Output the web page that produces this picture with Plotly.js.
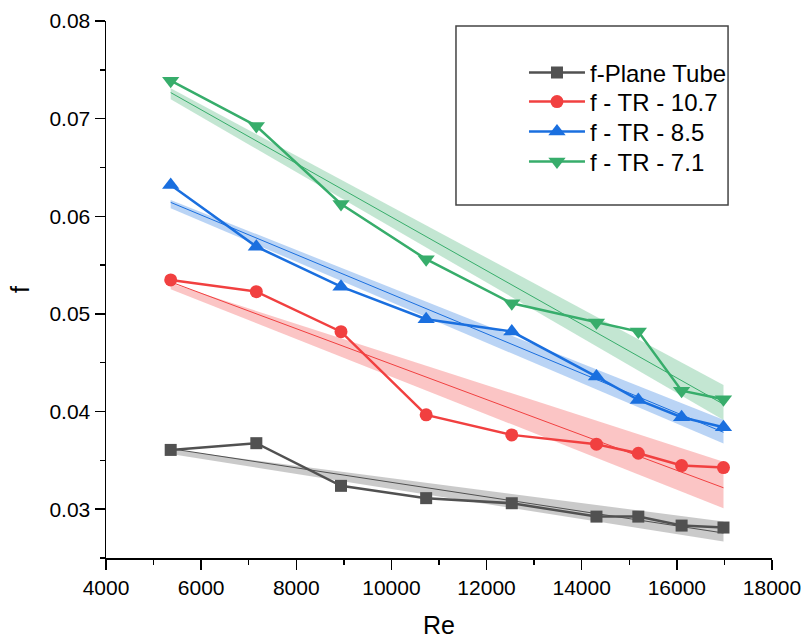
<!DOCTYPE html>
<html>
<head>
<meta charset="utf-8">
<script src="https://cdn.plot.ly/plotly-3.0.1.min.js"></script>
<style>html,body{margin:0;padding:0;background:#fff;}#chart{width:804px;height:641px;}</style>
</head>
<body>
<div id="chart"></div>
<script>
// ---- data ----
var re = [5360, 7160, 8940, 10730, 12530, 14310, 15190, 16100, 16980];
var fPlane = [0.03607, 0.03676, 0.03239, 0.03113, 0.03061, 0.02924, 0.02924, 0.02832, 0.02812];
var fTR107 = [0.05348, 0.05228, 0.04818, 0.03966, 0.03761, 0.03666, 0.03573, 0.03447, 0.03426];
var fTR85  = [0.06321, 0.05689, 0.05279, 0.04945, 0.04819, 0.04358, 0.04119, 0.03942, 0.03840];
var fTR71  = [0.07389, 0.06925, 0.06126, 0.05560, 0.05109, 0.04911, 0.04819, 0.04214, 0.04126];
var seriesNames = ['f-Plane Tube', 'f - TR - 10.7', 'f - TR - 8.5', 'f - TR - 7.1'];
// shaded band edges at first and last Re: [upper, lower]
var bandStart = [[0.03614, 0.03566], [0.05314, 0.05253], [0.06167, 0.06082], [0.07311, 0.07198]];
var bandEnd   = [[0.02873, 0.02668], [0.03487, 0.03010], [0.03915, 0.03673], [0.04273, 0.03914]];
var xTicks = [4000, 6000, 8000, 10000, 12000, 14000, 16000, 18000];
var yTicks = [0.03, 0.04, 0.05, 0.06, 0.07, 0.08];

var colors = ['#515151', '#F14040', '#1A6FDF', '#37AD6B'];
var bandColors = ['rgba(81,81,81,0.3)', 'rgba(241,64,64,0.3)', 'rgba(26,111,223,0.3)', 'rgba(55,173,107,0.3)'];
var symbols = ['square', 'circle', 'triangle-up', 'triangle-down'];
var sizes = [12, 13, 15, 15];
var allY = [fPlane, fTR107, fTR85, fTR71];
var legendIds = ['legend', 'legend2', 'legend3', 'legend4'];
var legendY = [0.9032, 0.8492, 0.7933, 0.7374];

function linfit(x, y) {
  var n = x.length, mx = 0, my = 0;
  for (var i = 0; i < n; i++) { mx += x[i]; my += y[i]; }
  mx /= n; my /= n;
  var sxy = 0, sxx = 0;
  for (var i = 0; i < n; i++) { sxy += (x[i]-mx)*(y[i]-my); sxx += (x[i]-mx)*(x[i]-mx); }
  var b = sxy / sxx;
  return {a: my - b*mx, b: b};
}

var traces = [];
var x0 = re[0], x1 = re[re.length-1];
// bands
for (var k = 0; k < 4; k++) {
  traces.push({
    x: [x0, x1, x1, x0, x0],
    y: [bandStart[k][0], bandEnd[k][0], bandEnd[k][1], bandStart[k][1], bandStart[k][0]],
    type: 'scatter', mode: 'lines', fill: 'toself',
    fillcolor: bandColors[k], line: {width: 0, color: bandColors[k]},
    showlegend: false, hoverinfo: 'skip'
  });
}
// fit lines
for (var k = 0; k < 4; k++) {
  var f = linfit(re, allY[k]);
  traces.push({
    x: [x0, x1], y: [f.a + f.b*x0, f.a + f.b*x1],
    type: 'scatter', mode: 'lines',
    line: {width: 1, color: colors[k]},
    showlegend: false, hoverinfo: 'skip'
  });
}
// data
for (var k = 0; k < 4; k++) {
  traces.push({
    x: re, y: allY[k], name: seriesNames[k],
    type: 'scatter', mode: 'lines+markers',
    line: {width: 2.5, color: colors[k]},
    marker: {symbol: symbols[k], size: sizes[k], color: colors[k]},
    legend: legendIds[k]
  });
}

var font = 'Arial, "Liberation Sans", sans-serif';
var layout = {
  width: 804, height: 641,
  margin: {l: 106, r: 32, t: 21, b: 83},
  paper_bgcolor: '#fff', plot_bgcolor: '#fff',
  font: {family: font, color: '#000'},
  xaxis: {
    range: [4000, 18000], tickvals: xTicks, ticktext: xTicks.map(String),
    ticks: 'outside', ticklen: 10, tickwidth: 1.5, tickcolor: '#000',
    showline: true, linecolor: '#000', linewidth: 1.5,
    showgrid: false, zeroline: false,
    minor: {dtick: 1000, ticks: 'outside', ticklen: 5, tickwidth: 1.5, tickcolor: '#000', showgrid: false},
    tickfont: {size: 21, family: font, color: '#000'},
    title: {text: 'Re', font: {size: 25, family: font, color: '#000'}, standoff: 19}
  },
  yaxis: {
    range: [0.025, 0.08], tickvals: yTicks, ticktext: yTicks.map(function(v){return v.toFixed(2);}),
    ticks: 'outside', ticklen: 10, tickwidth: 1.5, tickcolor: '#000',
    showline: true, linecolor: '#000', linewidth: 1.5,
    showgrid: false, zeroline: false,
    minor: {dtick: 0.005, ticks: 'outside', ticklen: 5, tickwidth: 1.5, tickcolor: '#000', showgrid: false},
    tickfont: {size: 21, family: font, color: '#000'},
    title: {text: 'f', font: {size: 25, family: font, color: '#000'}, standoff: 12}
  },
  showlegend: true,
  shapes: [{
    type: 'rect', xref: 'paper', yref: 'paper',
    x0: 0.5255, x1: 0.934, y0: 0.6574, y1: 0.9907,
    line: {color: '#444', width: 1.5}, fillcolor: 'rgba(0,0,0,0)', layer: 'below'
  }]
};
for (var k = 0; k < 4; k++) {
  layout[legendIds[k]] = {
    x: 0.6276, y: legendY[k], xanchor: 'left', yanchor: 'middle',
    bgcolor: 'rgba(0,0,0,0)', borderwidth: 0,
    font: {size: 24, family: font, color: '#000'},
    itemwidth: 56
  };
}

Plotly.newPlot('chart', traces, layout, {displayModeBar: false, staticPlot: true});
</script>
</body>
</html>
